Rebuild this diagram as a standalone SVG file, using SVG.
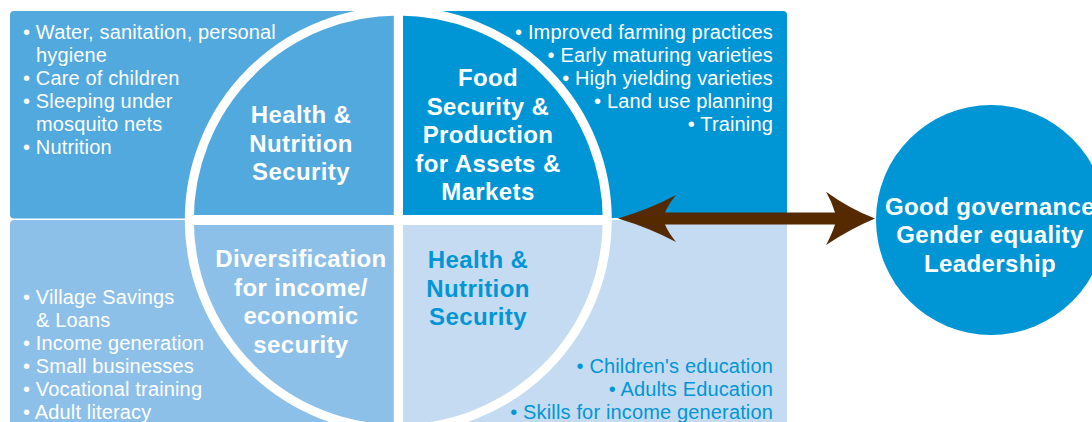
<svg xmlns="http://www.w3.org/2000/svg" width="1092" height="422" viewBox="0 0 1092 422">
<style>
.txt{font-family:"Liberation Sans",Arial,Helvetica,sans-serif;font-size:20px;fill:#fff;letter-spacing:0.15px}
.lbl{font-family:"Liberation Sans",Arial,Helvetica,sans-serif;font-size:24px;font-weight:bold;fill:#fff;text-anchor:middle;letter-spacing:0.4px}
.blue{fill:#0096D6}
.end{text-anchor:end}
</style>
<rect width="1092" height="422" fill="#fff"/>
<g id="box-health-top">
<rect x="10" y="11" width="384" height="207.5" rx="4" fill="#51A9DE"/>
<text class="txt" x="23" y="39">• Water, sanitation, personal</text>
<text class="txt" x="36" y="62">hygiene</text>
<text class="txt" x="23" y="85">• Care of children</text>
<text class="txt" x="23" y="108">• Sleeping under</text>
<text class="txt" x="36" y="131">mosquito nets</text>
<text class="txt" x="23" y="154">• Nutrition</text>
</g>
<g id="box-food">
<rect x="403" y="11" width="384" height="207" rx="4" fill="#0096D6"/>
<text class="txt end" x="773" y="39">• Improved farming practices</text>
<text class="txt end" x="773" y="62">• Early maturing varieties</text>
<text class="txt end" x="773" y="85">• High yielding varieties</text>
<text class="txt end" x="773" y="108">• Land use planning</text>
<text class="txt end" x="773" y="131">• Training</text>
</g>
<g id="box-diversification">
<rect x="10" y="220" width="384" height="220" rx="4" fill="#8DC0E8"/>
<text class="txt" x="23" y="304">• Village Savings</text>
<text class="txt" x="36" y="327">&amp; Loans</text>
<text class="txt" x="23" y="350">• Income generation</text>
<text class="txt" x="23" y="373">• Small businesses</text>
<text class="txt" x="23" y="396">• Vocational training</text>
<text class="txt" x="23" y="419">• Adult literacy</text>
</g>
<g id="box-health-bottom">
<rect x="403" y="220" width="384" height="220" rx="4" fill="#C4DBF2"/>
<text class="txt end blue" x="773" y="373">• Children's education</text>
<text class="txt end blue" x="773" y="396">• Adults Education</text>
<text class="txt end blue" x="773" y="419">• Skills for income generation</text>
</g>
<g id="center-circle">
<circle cx="398.3" cy="220" r="209" fill="none" stroke="#fff" stroke-width="9"/>
<line x1="186" y1="220" x2="611" y2="220" stroke="#fff" stroke-width="10"/>
<line x1="398.3" y1="11" x2="398.3" y2="430" stroke="#fff" stroke-width="9"/>
</g>
<g id="label-health-top">
<text class="lbl" x="301" y="123">Health &amp;</text>
<text class="lbl" x="301" y="151.5">Nutrition</text>
<text class="lbl" x="301" y="180">Security</text>
</g>
<g id="label-food">
<text class="lbl" x="488" y="86">Food</text>
<text class="lbl" x="488" y="114.5">Security &amp;</text>
<text class="lbl" x="488" y="143">Production</text>
<text class="lbl" x="488" y="171.5">for Assets &amp;</text>
<text class="lbl" x="488" y="200">Markets</text>
</g>
<g id="label-diversification">
<text class="lbl" x="301" y="267">Diversification</text>
<text class="lbl" x="301" y="295.5">for income/</text>
<text class="lbl" x="301" y="324">economic</text>
<text class="lbl" x="301" y="352.5">security</text>
</g>
<g id="label-health-bottom">
<text class="lbl blue" x="478" y="268">Health &amp;</text>
<text class="lbl blue" x="478" y="296.5">Nutrition</text>
<text class="lbl blue" x="478" y="325">Security</text>
</g>
<g id="governance">
<circle cx="991" cy="220" r="115" fill="#0096D6"/>
<text class="lbl" x="990" y="215">Good governance</text>
<text class="lbl" x="990" y="243.3">Gender equality</text>
<text class="lbl" x="990" y="271.7">Leadership</text>
</g>
<g id="connectors">
<path d="M618,218.5 Q650,209 676,195 Q668,205 665,212.5 L835,212.5 Q832,202 826,191.7 Q850,209 875,218.5 Q850,229 826,245 Q832,234 835,224.5 L665,224.5 Q668,232 676,242 Q650,228 618,218.5 Z" fill="#552A00"/>
</g>
</svg>
